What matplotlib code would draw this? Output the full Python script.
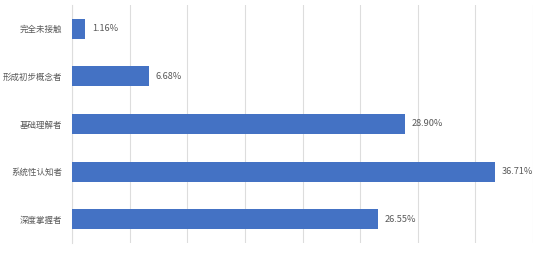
import matplotlib
matplotlib.use("Agg")
import matplotlib.pyplot as plt
from matplotlib.ticker import MultipleLocator

plt.rcParams['font.family'] = ['Noto Sans CJK SC', 'DejaVu Sans']

categories = ["完全未接触", "形成初步概念者", "基础理解者", "系统性认知者", "深度掌握者"]
values = [1.16, 6.68, 28.90, 36.71, 26.55]
labels = ["1.16%", "6.68%", "28.90%", "36.71%", "26.55%"]

fig = plt.figure(figsize=(5.59, 2.58), dpi=100)
ax = fig.add_axes([72/559, 15/258, (533-72)/559, (243-5)/258])

pos = list(range(len(categories)))
ax.barh(pos, values, height=0.42, color="#4472C4", zorder=3)
for p, v, t in zip(pos, values, labels):
    ax.text(v + 0.6, p, t, va="center", ha="left", fontsize=6.6, color="#595959")

ax.set_xlim(0, 40)
ax.set_ylim(4.5, -0.5)
ax.set_yticks(pos)
ax.set_yticklabels(categories, fontsize=6.1, color="#595959")
ax.xaxis.set_major_locator(MultipleLocator(5))
ax.set_xticklabels([])
ax.tick_params(axis='both', length=0)
ax.tick_params(axis='y', pad=7)
ax.grid(axis='x', color="#DDDDDD", linewidth=0.8, zorder=0)
for s in ["top", "right", "bottom"]:
    ax.spines[s].set_visible(False)
ax.spines["left"].set_color("#DDDDDD")
ax.spines["left"].set_linewidth(0.8)

fig.savefig("out.png", dpi=100)
